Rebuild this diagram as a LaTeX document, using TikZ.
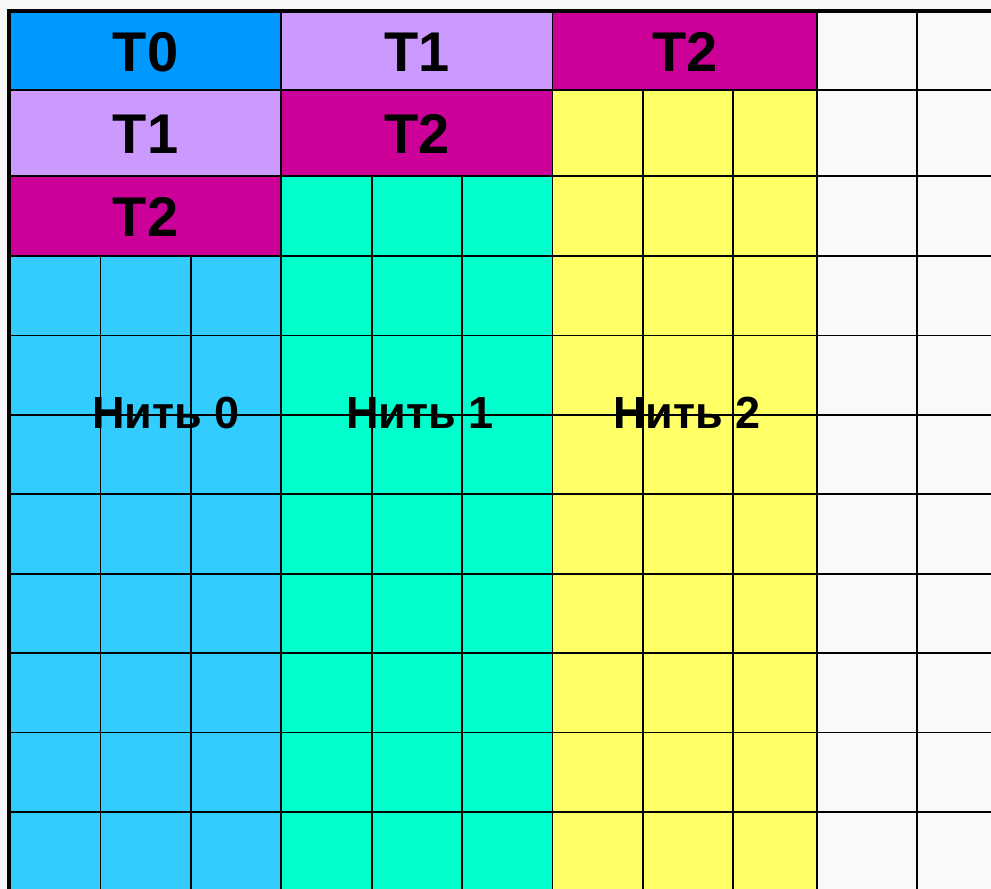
\documentclass[tikz,border=0pt]{standalone}
\usepackage{fontspec}
\setmainfont{Liberation Sans}[BoldFont={Liberation Sans Bold}]
\newfontfamily\lblfont{Liberation Sans Bold}
\definecolor{tzero}{HTML}{0099FF}
\definecolor{tone}{HTML}{CC99FF}
\definecolor{ttwo}{HTML}{CC0099}
\definecolor{nzero}{HTML}{33CCFF}
\definecolor{none}{HTML}{00FFCC}
\definecolor{ntwo}{HTML}{FFFF66}
\definecolor{blank}{HTML}{F9F9F9}
\definecolor{bgc}{HTML}{F7F7F7}
\tikzset{
  gridline/.style={draw=black, line width=1.8pt},
  frame/.style={draw=black, line width=4pt},
  tlabel/.style={font=\lblfont\fontsize{56}{60}\selectfont, inner sep=0pt},
  nlabel/.style={font=\lblfont\fontsize{45}{50}\selectfont, inner sep=0pt},
}
\begin{document}
\begin{tikzpicture}[x=1pt,y=-1pt]
\useasboundingbox (0,0) rectangle (991,889);
\fill[bgc] (0,0) rectangle (991,889);
\begin{scope}
\clip (0,0) rectangle (991,889);
% colour fills
\fill[blank] (817,11) rectangle (995,895);
\fill[ntwo] (552.4,90) rectangle (817,895);
\fill[none] (281.2,176) rectangle (552.4,895);
\fill[nzero] (10,256) rectangle (281.2,895);
\fill[tzero] (10,11) rectangle (281.2,90);
\fill[tone] (10,90) rectangle (281.2,176);
\fill[tone] (281.2,11) rectangle (552.4,90);
\fill[ttwo] (10,176) rectangle (281.2,256);
\fill[ttwo] (281.2,90) rectangle (552.4,176);
\fill[ttwo] (552.4,11) rectangle (817,90);
% horizontal lines
\foreach \y in {90,176,256,335.4,414.8,494.2,573.6,653,732.4,811.8}
  \draw[gridline] (10,\y) -- (995,\y);
% vertical lines (full height)
\foreach \x in {281.2,552.4,817,917}
  \draw[gridline] (\x,11) -- (\x,895);
% sub-column lines
\foreach \x in {100.4,190.8}
  \draw[gridline] (\x,256) -- (\x,895);
\foreach \x in {371.6,462}
  \draw[gridline] (\x,176) -- (\x,895);
\foreach \x in {642.8,733.2}
  \draw[gridline] (\x,90) -- (\x,895);
% outer frame
\draw[frame] (9,895) -- (9,11) -- (995,11);
\end{scope}
% labels
\node[tlabel] (r0a) at (145.6,52) {T0};
\node[tlabel] (r0b) at (416.8,52) {T1};
\node[tlabel] (r0c) at (684.7,52) {T2};
\node[tlabel] (r1a) at (145.6,134) {T1};
\node[tlabel] (r1b) at (416.8,134) {T2};
\node[tlabel] (r2a) at (145.6,217) {T2};
\node[nlabel] (n0) at (166,413) {Нить 0};
\node[nlabel] (n1) at (420,413) {Нить 1};
\node[nlabel] (n2) at (687,413) {Нить 2};
\end{tikzpicture}
\end{document}
